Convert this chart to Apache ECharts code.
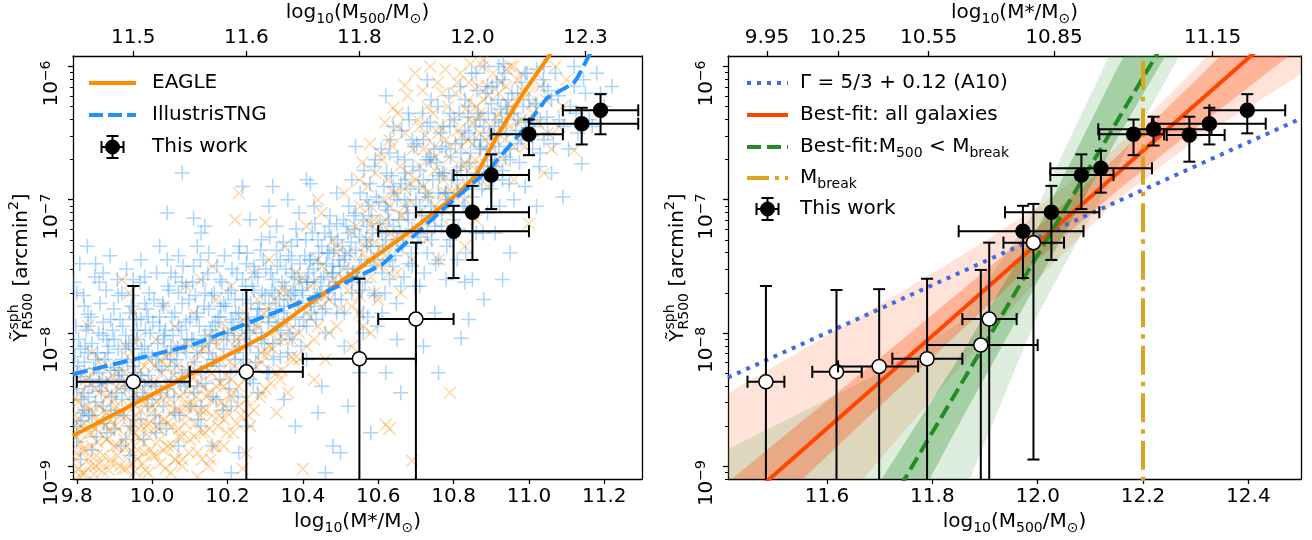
<!DOCTYPE html>
<html>
<head>
<meta charset="utf-8">
<title>tSZ signal versus stellar and halo mass</title>
<script src="https://cdn.jsdelivr.net/npm/echarts@6.0.0/dist/echarts.min.js"></script>
<style>
html, body { margin: 0; padding: 0; background: #fff; }
#chart { width: 1312px; height: 540px; }
</style>
</head>
<body>
<div id="chart"></div>
<script>
// ---------------- data ----------------
// stacked bins: [x, Y (arcmin^2), x low, x high, Y low, Y high]; Y low of 1e-11 = unbounded below
const mstarOpen = [
  [9.95, 4.3e-9, 9.80, 10.10, 1e-11, 2.25e-8],
  [10.25, 5.1e-9, 10.10, 10.40, 1e-11, 2.1e-8],
  [10.55, 6.4e-9, 10.40, 10.70, 1e-11, 2.55e-8],
  [10.70, 1.27e-8, 10.60, 10.80, 1e-11, 4.76e-8]
];
const mstarFilled = [
  [10.80, 5.8e-8, 10.60, 11.00, 2.58e-8, 9.0e-8],
  [10.85, 8.05e-8, 10.70, 11.00, 3.53e-8, 1.27e-7],
  [10.90, 1.53e-7, 10.80, 11.00, 8.5e-8, 2.19e-7],
  [11.00, 3.1e-7, 10.90, 11.09, 2.16e-7, 4.0e-7],
  [11.14, 3.72e-7, 11.00, 11.29, 2.6e-7, 4.9e-7],
  [11.19, 4.69e-7, 11.09, 11.29, 3.1e-7, 6.2e-7]
];
const m500Open = [
  [11.484, 4.3e-9, 11.449, 11.519, 1e-11, 2.25e-8],
  [11.618, 5.1e-9, 11.572, 11.666, 1e-11, 2.1e-8],
  [11.699, 5.6e-9, 11.621, 11.773, 1e-11, 2.13e-8],
  [11.790, 6.4e-9, 11.724, 11.857, 1e-11, 2.55e-8],
  [11.892, 8.1e-9, 11.790, 12.000, 1e-11, 2.97e-8],
  [11.908, 1.27e-8, 11.857, 11.960, 1e-11, 4.76e-8],
  [11.992, 4.76e-8, 11.935, 12.050, 1.12e-9, 9.3e-8]
];
const m500Filled = [
  [11.972, 5.8e-8, 11.850, 12.087, 2.58e-8, 9.0e-8],
  [12.026, 8.05e-8, 11.938, 12.117, 3.53e-8, 1.27e-7],
  [12.083, 1.53e-7, 12.024, 12.144, 8.5e-8, 2.19e-7],
  [12.120, 1.72e-7, 12.024, 12.217, 1.13e-7, 2.33e-7],
  [12.182, 3.1e-7, 12.117, 12.240, 2.16e-7, 4.0e-7],
  [12.220, 3.38e-7, 12.115, 12.330, 2.55e-7, 4.2e-7],
  [12.288, 3.06e-7, 12.245, 12.355, 1.93e-7, 4.2e-7],
  [12.326, 3.72e-7, 12.217, 12.433, 2.6e-7, 4.9e-7],
  [12.398, 4.69e-7, 12.326, 12.470, 3.15e-7, 6.2e-7]
];

// simulation medians: [log10 M*, log10 Y]
const eagleMedian = [[9.79,-8.772],[10.10,-8.314],[10.30,-8.022],[10.45,-7.714],[10.55,-7.514],[10.69,-7.227],[10.80,-6.98],[10.82,-6.93],[10.86,-6.814],[10.92,-6.50],[10.985,-6.20],[11.052,-5.926],[11.10,-5.70]];
const tngMedian = [[9.79,-8.31],[10.10,-8.097],[10.446,-7.714],[10.61,-7.489],[10.78,-7.052],[10.897,-6.764],[10.985,-6.476],[11.047,-6.239],[11.118,-6.126],[11.13,-6.077],[11.158,-5.926],[11.18,-5.80]];

// individual simulated galaxies: [log10 M*, log10 Y]
const eagleGalaxies = [
  [9.80,-8.90],[9.82,-9.05],[9.81,-8.70],[9.83,-8.55],[9.84,-8.85],[9.85,-9.00],[9.86,-8.65],[9.87,-8.40],[9.88,-8.80],[9.89,-8.95],
  [9.80,-8.50],[9.82,-8.30],[9.84,-8.15],[9.86,-8.98],[9.88,-8.60],[9.83,-7.95],[9.87,-8.25],[9.81,-9.08],[9.85,-8.72],[9.89,-8.45],
  [9.91,-8.85],[9.92,-8.60],[9.93,-9.02],[9.94,-8.40],[9.95,-8.75],[9.96,-8.95],[9.97,-8.50],[9.98,-8.25],[9.99,-8.68],[9.91,-8.30],
  [9.93,-8.10],[9.95,-7.85],[9.97,-8.80],[9.99,-9.05],[9.92,-7.60],[9.96,-8.05],[9.98,-8.90],[9.94,-7.70],
  [10.01,-8.70],[10.02,-8.45],[10.03,-8.88],[10.04,-8.25],[10.05,-8.60],[10.06,-8.95],[10.07,-8.35],[10.08,-8.10],[10.09,-8.55],[10.01,-8.05],
  [10.03,-7.80],[10.05,-9.05],[10.07,-8.78],[10.09,-7.65],[10.02,-8.20],[10.06,-7.95],[10.08,-9.00],
  [10.11,-8.55],[10.12,-8.30],[10.13,-8.75],[10.14,-8.10],[10.15,-8.45],[10.16,-8.85],[10.17,-8.20],[10.18,-7.95],[10.19,-8.65],[10.11,-7.85],
  [10.13,-7.60],[10.15,-9.00],[10.17,-7.75],[10.19,-8.40],[10.12,-9.08],[10.16,-7.50],
  [10.21,-8.35],[10.22,-8.10],[10.23,-8.55],[10.24,-7.90],[10.25,-8.25],[10.26,-8.70],[10.27,-8.00],[10.28,-7.75],[10.29,-8.45],[10.21,-7.65],
  [10.23,-6.95],[10.25,-8.90],[10.27,-7.55],[10.29,-8.15],[10.22,-7.15],[10.30,-7.17],[10.24,-9.02],
  [10.31,-8.10],[10.32,-7.88],[10.33,-8.30],[10.34,-7.70],[10.35,-8.05],[10.36,-8.45],[10.37,-7.80],[10.38,-7.55],[10.39,-8.20],[10.31,-7.45],
  [10.33,-8.60],[10.35,-7.35],[10.37,-8.05],[10.39,-7.62],[10.40,-9.02],
  [10.41,-7.85],[10.42,-7.65],[10.43,-8.05],[10.44,-7.45],[10.45,-7.80],[10.46,-8.20],[10.47,-7.55],[10.48,-7.30],[10.49,-7.95],[10.41,-7.20],
  [10.43,-8.35],[10.45,-7.10],[10.47,-7.75],[10.49,-7.40],[10.44,-7.00],
  [10.51,-7.60],[10.52,-7.40],[10.53,-7.80],[10.54,-7.20],[10.55,-7.55],[10.56,-7.95],[10.57,-7.30],[10.58,-7.05],[10.59,-7.70],[10.51,-6.95],
  [10.53,-8.10],[10.55,-6.85],[10.57,-7.45],[10.59,-7.15],[10.55,-7.85],[10.60,-7.75],[10.58,-8.00],
  [10.61,-7.35],[10.62,-7.15],[10.63,-7.55],[10.64,-6.95],[10.65,-7.30],[10.66,-7.70],[10.67,-7.05],[10.68,-6.80],[10.69,-7.45],[10.61,-6.70],
  [10.63,-6.55],[10.64,-6.31],[10.67,-6.14],[10.62,-8.69],[10.63,-8.72],[10.69,-8.96],[10.65,-6.45],
  [10.71,-7.10],[10.72,-6.90],[10.73,-7.30],[10.74,-6.70],[10.75,-7.05],[10.76,-7.45],[10.77,-6.80],[10.78,-6.55],[10.79,-7.20],[10.71,-6.45],
  [10.73,-6.30],[10.75,-6.60],[10.77,-6.20],[10.79,-8.45],[10.78,-6.95],
  [10.81,-6.80],[10.82,-6.60],[10.83,-7.00],[10.84,-6.40],[10.85,-6.75],[10.86,-7.15],[10.87,-6.50],[10.88,-6.25],[10.89,-6.90],[10.81,-6.12],
  [10.84,-6.12],[10.88,-5.95],[10.86,-6.30],[10.83,-7.35],
  [10.91,-6.55],[10.92,-6.35],[10.93,-6.70],[10.94,-6.15],[10.95,-6.45],[10.96,-6.85],[10.97,-6.25],[10.98,-6.05],[10.99,-6.60],[10.95,-6.00],
  [11.00,-7.18],[11.01,-6.35],[11.03,-6.15],[11.05,-6.50],[11.07,-6.00],[11.09,-6.30],[11.12,-6.63],[11.04,-6.80],[11.10,-6.10],
  [9.795,-8.62],[9.80,-8.78],[9.805,-9.02],[9.81,-8.45],[9.815,-8.88],[9.82,-8.68],[9.825,-8.35],[9.83,-8.95],[9.835,-8.58],[9.84,-8.75],
  [9.845,-9.06],[9.85,-8.42],[9.855,-8.82],[9.86,-8.55],[9.865,-8.20],[9.87,-8.92],[9.875,-8.70],[9.88,-8.48],[9.885,-9.03],[9.89,-8.65],
  [9.895,-8.32],[9.90,-8.85],[9.905,-8.55],[9.91,-8.72],[9.915,-9.00],[9.92,-8.40],[9.925,-8.80],[9.93,-8.62],[9.935,-8.18],[9.94,-8.90],
  [9.945,-8.52],[9.95,-8.68],[9.955,-9.04],[9.96,-8.35],[9.965,-8.78],[9.97,-8.58],[9.975,-8.98],[9.98,-8.45],[9.985,-8.70],[9.99,-8.20],
  [9.995,-8.88],[10.00,-8.55],[10.005,-8.38],[10.01,-8.92],[10.015,-8.62],[10.02,-8.80],[10.025,-8.30],[10.03,-8.50],[10.035,-9.02],[10.04,-8.68],
  [10.045,-8.15],[10.05,-8.42],[10.055,-8.85],[10.06,-8.58],[10.065,-8.25],[10.07,-8.72],[10.075,-8.48],[10.08,-8.95],[10.085,-8.35],[10.09,-8.62],
  [10.095,-8.08],[10.10,-8.80],[10.105,-8.45],[10.11,-8.22],[10.115,-8.68],[10.12,-8.90],[10.125,-8.38],[10.13,-8.58],[10.135,-8.12],[10.14,-8.75],
  [10.145,-8.48],[10.15,-8.28],[10.155,-8.95],[10.16,-8.62],[10.165,-8.05],[10.17,-8.40],[10.175,-8.70],[10.18,-8.20],[10.185,-8.52],[10.19,-8.85],
  [10.195,-8.32],[10.20,-8.60],[10.205,-7.98],[10.21,-8.48],[10.215,-8.75],[10.22,-8.25],[10.225,-8.05],[10.23,-8.40],[10.235,-8.62],[10.24,-8.12],
  [10.245,-7.85],[10.25,-8.50],[10.26,-8.30],[10.27,-8.58],[10.28,-7.95],[10.29,-8.22],[10.30,-8.42],[10.31,-7.82],[10.32,-8.12],[10.33,-7.98],
  [10.34,-8.35],[10.35,-7.65],[10.36,-7.92],[10.37,-8.18],[10.38,-7.78],[10.39,-8.00],[10.40,-7.58],[10.41,-8.10],[10.42,-7.88],[10.43,-7.62],
  [10.44,-7.95],[10.45,-7.50],[10.46,-7.72],[10.47,-8.00],[10.48,-7.60],[10.49,-7.35],[10.50,-7.82],[10.51,-7.52],[10.52,-7.68],[10.53,-7.25],
  [10.54,-7.55],[10.55,-7.72],[10.56,-7.40],[10.57,-7.15],[10.58,-7.58],[10.59,-7.32],[10.60,-7.50],[10.61,-7.18],[10.62,-7.42],[10.63,-7.05],
  [10.64,-7.30],[10.65,-7.55],[10.66,-7.12],[10.67,-6.92],[10.68,-7.28],[10.69,-7.02],[10.70,-6.85],[10.71,-7.22],[10.72,-6.62],[10.73,-6.98],
  [10.74,-7.15],[10.75,-6.78],[10.76,-6.50],[10.77,-6.95],[10.78,-7.08],[10.79,-6.68],[10.80,-6.40],[10.81,-6.90],[10.82,-6.52],[10.83,-6.72],
  [10.84,-6.25],[10.85,-6.58],[10.86,-6.85],[10.87,-6.35],[10.88,-6.62],[10.89,-6.15],[10.90,-6.45],[10.91,-6.72],[10.92,-6.20],[10.93,-6.48],
  [10.94,-6.02],[10.95,-6.32],[10.96,-6.60],[10.97,-6.10],[10.98,-6.40],[11.00,-6.20],[11.02,-6.05],
  [9.792,-8.70],[9.798,-8.95],[9.803,-8.52],[9.808,-8.82],[9.812,-9.05],[9.818,-8.60],[9.822,-8.88],[9.828,-8.40],[9.832,-8.75],[9.838,-9.00],
  [9.842,-8.62],[9.848,-8.30],[9.852,-8.92],[9.858,-8.68],[9.862,-8.45],[9.868,-9.04],[9.872,-8.58],[9.878,-8.80],[9.882,-8.35],[9.888,-8.72],
  [9.892,-8.98],[9.898,-8.50],[9.902,-8.70],[9.908,-8.92],[9.912,-8.42],[9.918,-8.62],[9.922,-9.02],[9.928,-8.30],[9.932,-8.85],[9.938,-8.55],
  [9.942,-8.72],[9.948,-8.98],[9.952,-8.45],[9.958,-8.62],[9.962,-8.88],[9.968,-8.28],[9.972,-8.70],[9.978,-8.52],[9.982,-9.03],[9.988,-8.38],
  [9.992,-8.78],[9.998,-8.60],[10.002,-8.92],[10.008,-8.25],[10.012,-8.52],[10.018,-8.72],[10.022,-8.98],[10.028,-8.40],[10.032,-8.65],[10.038,-8.18],
  [10.042,-8.85],[10.048,-8.50],[10.052,-8.70],[10.058,-8.32],[10.062,-8.95],[10.068,-8.58],[10.072,-8.12],[10.078,-8.78],[10.082,-8.45],[10.088,-8.68],
  [10.092,-8.28],[10.098,-8.90],[10.102,-8.55],[10.108,-8.35],[10.112,-8.78],[10.118,-8.48],[10.122,-8.15],[10.128,-8.62],[10.132,-8.95],[10.138,-8.40],
  [10.142,-8.58],[10.148,-8.02],[10.152,-8.72],[10.158,-8.30],[10.162,-8.50],[10.168,-8.85],[10.172,-8.10],[10.178,-8.62],[10.182,-8.38],[10.188,-8.02],
  [10.192,-8.55],[10.198,-8.75],[10.205,-8.22],[10.215,-8.45],[10.225,-8.68],[10.235,-8.02],[10.245,-8.35],[10.255,-8.62],[10.265,-7.92],[10.275,-8.25],
  [10.285,-8.48],[10.295,-7.85],[10.305,-8.15],[10.315,-8.38],[10.325,-7.75],[10.335,-8.05],[10.345,-8.28],[10.355,-7.70],[10.365,-7.98],[10.375,-8.20],
  [10.552,-7.05],[10.558,-6.72],[10.565,-7.35],[10.572,-6.90],[10.578,-6.58],[10.585,-7.20],[10.592,-6.80],[10.598,-7.48],[10.605,-6.65],[10.612,-7.00],
  [10.618,-6.42],[10.625,-6.85],[10.632,-7.25],[10.638,-6.60],[10.645,-6.95],[10.652,-6.35],[10.658,-6.75],[10.665,-7.12],[10.672,-6.50],[10.678,-6.22],
  [10.685,-6.88],[10.692,-6.62],[10.698,-6.05],[10.705,-6.40],[10.712,-6.75],[10.718,-6.18],[10.725,-6.52],[10.732,-6.95],[10.738,-6.00],[10.745,-6.35],
  [10.752,-6.68],[10.758,-6.12],[10.765,-6.45],[10.772,-6.85],[10.778,-6.02],[10.785,-6.30],[10.792,-6.60],[10.798,-6.95],[10.805,-6.20],[10.812,-6.48],
  [10.818,-6.05],[10.825,-6.75],[10.832,-6.32],[10.838,-6.55],[10.845,-5.98],[10.852,-6.42],[10.858,-6.70],[10.865,-6.15],[10.872,-6.38],[10.878,-6.00],
  [10.885,-6.55],[10.892,-6.22],[10.898,-6.78],[10.905,-6.05],[10.915,-6.38],[10.925,-6.12],[10.935,-6.55],[10.945,-6.28],[10.958,-6.00],[10.968,-6.42],
  [10.982,-6.18],[10.995,-6.50],[11.008,-6.28],[11.025,-6.42],[11.045,-6.25],[11.06,-6.62],[11.08,-6.45]
];
const tngGalaxies = [
  [9.80,-8.30],[9.82,-8.45],[9.81,-8.12],[9.84,-8.62],[9.85,-8.20],[9.83,-7.95],[9.86,-8.38],[9.88,-8.05],[9.80,-8.70],[9.87,-8.55],
  [9.89,-8.28],[9.82,-7.80],[9.84,-8.88],[9.86,-7.62],[9.81,-8.95],[9.88,-8.75],[9.83,-8.15],[9.85,-7.48],[9.89,-7.90],[9.80,-7.70],
  [9.87,-8.02],[9.82,-8.58],
  [9.91,-8.35],[9.93,-8.10],[9.92,-8.50],[9.94,-7.85],[9.95,-8.25],[9.97,-8.65],[9.96,-7.98],[9.98,-8.40],[9.99,-8.15],[9.91,-7.72],
  [9.93,-8.80],[9.95,-7.60],[9.97,-8.32],[9.99,-7.88],[9.92,-8.20],[9.94,-8.92],[9.96,-8.48],[9.98,-7.78],[9.90,-8.05],[9.97,-7.45],
  [10.01,-8.20],[10.02,-7.95],[10.04,-8.42],[10.03,-7.80],[10.05,-8.10],[10.06,-8.60],[10.07,-7.70],[10.08,-8.30],[10.09,-7.92],[10.01,-8.75],
  [10.03,-8.05],[10.05,-7.55],[10.07,-8.85],[10.09,-8.15],[10.02,-7.35],[10.06,-8.25],[10.08,-7.62],[10.04,-7.10],[10.00,-8.50],[10.08,-6.80],
  [10.11,-8.05],[10.12,-7.85],[10.13,-8.30],[10.14,-7.70],[10.15,-8.15],[10.16,-7.95],[10.17,-8.50],[10.18,-7.60],[10.19,-8.00],[10.11,-7.50],
  [10.13,-8.70],[10.15,-7.40],[10.17,-8.20],[10.19,-7.78],[10.12,-8.40],[10.14,-7.20],[10.16,-8.85],[10.18,-7.88],[10.11,-7.14],[10.13,-7.25],
  [10.21,-7.90],[10.22,-7.75],[10.23,-8.10],[10.24,-7.60],[10.25,-7.98],[10.26,-8.35],[10.27,-7.50],[10.28,-7.82],[10.29,-8.05],[10.21,-8.55],
  [10.23,-7.40],[10.25,-8.70],[10.27,-7.68],[10.29,-7.30],[10.22,-8.20],[10.24,-6.90],[10.26,-7.15],[10.28,-8.45],[10.21,-9.05],[10.23,-8.90],
  [10.31,-7.78],[10.32,-7.60],[10.33,-7.95],[10.34,-7.45],[10.35,-7.85],[10.36,-8.15],[10.37,-7.35],[10.38,-7.70],[10.39,-7.95],[10.31,-8.30],
  [10.33,-7.20],[10.35,-8.50],[10.37,-7.55],[10.39,-7.10],[10.32,-6.90],[10.34,-8.05],[10.36,-7.00],[10.38,-8.70],[10.31,-7.05],
  [10.41,-7.62],[10.42,-7.45],[10.43,-7.80],[10.44,-7.30],[10.45,-7.70],[10.46,-8.00],[10.47,-7.20],[10.48,-7.55],[10.49,-7.85],[10.41,-8.20],
  [10.43,-7.05],[10.45,-8.40],[10.47,-7.40],[10.49,-6.95],[10.42,-6.88],[10.44,-8.60],[10.46,-9.05],[10.48,-8.85],[10.41,-6.85],
  [10.51,-7.45],[10.52,-7.25],[10.53,-7.62],[10.54,-7.10],[10.55,-7.50],[10.56,-7.85],[10.57,-7.00],[10.58,-7.35],[10.59,-7.70],[10.51,-8.10],
  [10.53,-6.85],[10.55,-8.30],[10.57,-7.20],[10.59,-6.75],[10.52,-8.55],[10.54,-6.60],[10.56,-8.00],[10.58,-8.75],[10.50,-8.90],
  [10.61,-7.25],[10.62,-7.05],[10.63,-7.45],[10.64,-6.90],[10.65,-7.30],[10.66,-7.65],[10.67,-6.80],[10.68,-7.15],[10.69,-7.50],[10.61,-7.85],
  [10.63,-6.65],[10.65,-8.05],[10.67,-7.00],[10.69,-6.55],[10.62,-8.30],[10.64,-6.45],[10.66,-8.45],[10.68,-6.35],[10.62,-6.22],
  [10.71,-7.05],[10.72,-6.85],[10.73,-7.25],[10.74,-6.70],[10.75,-7.10],[10.76,-7.45],[10.77,-6.60],[10.78,-6.95],[10.79,-7.30],[10.71,-7.65],
  [10.73,-6.45],[10.75,-7.85],[10.77,-6.80],[10.79,-6.35],[10.72,-8.10],[10.74,-6.25],[10.76,-8.30],[10.78,-7.60],[10.73,-6.10],
  [10.81,-6.85],[10.82,-6.65],[10.83,-7.05],[10.84,-6.50],[10.85,-6.90],[10.86,-7.25],[10.87,-6.40],[10.88,-6.75],[10.89,-7.10],[10.81,-7.45],
  [10.83,-6.25],[10.85,-7.60],[10.87,-6.60],[10.89,-6.15],[10.82,-8.04],[10.84,-7.90],[10.86,-6.05],[10.88,-7.75],[10.83,-7.62],
  [10.91,-6.65],[10.92,-6.45],[10.93,-6.85],[10.94,-6.30],[10.95,-6.70],[10.96,-7.00],[10.97,-6.20],[10.98,-6.55],[10.99,-6.90],[10.91,-7.25],
  [10.93,-6.10],[10.95,-7.40],[10.97,-6.40],[10.99,-6.05],[10.93,-7.60],[10.92,-6.00],
  [11.01,-6.45],[11.02,-6.30],[11.03,-6.65],[11.04,-6.15],[11.05,-6.50],[11.06,-6.80],[11.07,-6.05],[11.08,-6.40],[11.09,-6.98],[11.02,-7.05],
  [11.04,-6.00],[11.06,-6.25],
  [11.11,-6.30],[11.12,-6.15],[11.13,-6.50],[11.14,-6.73],[11.15,-6.20],[11.16,-6.40],[11.18,-6.05],[11.20,-6.30],[11.22,-6.15],[11.12,-6.00],
  [9.795,-8.18],[9.80,-8.42],[9.805,-8.05],[9.81,-8.33],[9.815,-8.60],[9.82,-8.22],[9.825,-7.98],[9.83,-8.48],[9.835,-8.35],[9.84,-8.08],
  [9.845,-8.27],[9.85,-8.52],[9.80,-8.82],[9.83,-7.86],[9.81,-8.66],
  [9.855,-8.15],[9.86,-8.30],[9.865,-8.44],[9.87,-7.92],[9.875,-8.20],[9.88,-8.38],[9.885,-8.10],[9.89,-8.58],[9.895,-7.98],[9.90,-8.26],
  [9.905,-8.45],[9.91,-8.12],[9.915,-7.90],[9.92,-8.32],[9.925,-8.62],[9.93,-8.02],[9.935,-8.22],[9.94,-8.40],[9.945,-7.80],[9.95,-8.12],
  [9.87,-7.55],[9.92,-7.70],[9.90,-8.72],
  [9.955,-8.30],[9.96,-8.05],[9.965,-8.20],[9.97,-7.90],[9.975,-8.45],[9.98,-8.10],[9.985,-7.82],[9.99,-8.32],[9.995,-8.00],[10.00,-8.18],
  [10.005,-7.75],[10.01,-8.40],[10.015,-8.08],[10.02,-7.88],[10.025,-8.28],[10.03,-8.55],[10.035,-7.98],[10.04,-8.15],[10.045,-7.68],[10.05,-8.35],
  [9.98,-7.58],[10.02,-8.68],[10.04,-7.45],
  [10.055,-8.02],[10.06,-7.85],[10.065,-8.20],[10.07,-7.95],[10.075,-8.38],[10.08,-7.78],[10.085,-8.10],[10.09,-7.65],[10.095,-8.28],[10.10,-7.90],
  [10.105,-8.05],[10.11,-8.45],[10.115,-7.72],[10.12,-8.15],[10.125,-7.95],[10.13,-8.55],[10.135,-7.60],[10.14,-8.02],[10.145,-8.25],[10.15,-7.82],
  [10.07,-7.42],[10.12,-7.35],
  [10.155,-7.98],[10.16,-8.20],[10.165,-7.70],[10.17,-8.05],[10.175,-7.88],[10.18,-8.35],[10.185,-7.62],[10.19,-8.12],[10.195,-7.80],[10.20,-8.00],
  [10.205,-8.42],[10.21,-7.68],[10.215,-7.92],[10.22,-8.15],[10.225,-7.55],[10.23,-7.85],[10.235,-8.28],[10.24,-7.75],[10.245,-8.05],[10.25,-7.48],
  [10.255,-7.90],[10.26,-8.10],[10.265,-7.65],[10.27,-7.95],[10.275,-8.22],[10.28,-7.58],[10.285,-7.82],[10.29,-8.00],[10.295,-7.45],[10.30,-7.72],
  [10.305,-8.30],[10.31,-7.88],[10.315,-7.55],[10.32,-8.08],[10.325,-7.70],[10.33,-7.38],[10.335,-7.92],[10.34,-8.18],[10.345,-7.62],[10.35,-7.80],
  [10.355,-7.52],[10.36,-7.75],[10.365,-8.00],[10.37,-7.45],[10.375,-7.68],[10.38,-7.88],[10.385,-7.30],[10.39,-7.60],[10.395,-8.10],[10.40,-7.72],
  [10.405,-7.42],[10.41,-7.95],[10.415,-7.55],[10.42,-7.78],[10.425,-7.25],[10.43,-7.62],[10.435,-7.90],[10.44,-7.48],[10.445,-7.70],[10.45,-7.35],
  [10.455,-7.58],[10.46,-7.82],[10.465,-7.40],[10.47,-7.65],[10.475,-7.28],[10.48,-7.50],[10.485,-7.75],[10.49,-7.18],[10.495,-7.45],[10.50,-7.62],
  [10.505,-7.35],[10.51,-7.85],[10.515,-7.20],[10.52,-7.52],[10.525,-7.40],[10.53,-7.70],[10.535,-7.12],[10.54,-7.38],[10.545,-7.58],[10.55,-7.28],
  [10.555,-7.45],[10.56,-7.15],[10.565,-7.62],[10.57,-7.35],[10.575,-7.05],[10.58,-7.50],[10.585,-7.25],[10.59,-7.72],[10.595,-6.98],[10.60,-7.40],
  [10.605,-7.18],[10.61,-7.55],[10.615,-6.90],[10.62,-7.30],[10.625,-7.08],[10.63,-7.60],[10.635,-6.82],[10.64,-7.20],[10.645,-7.42],[10.65,-7.00],
  [10.655,-7.15],[10.66,-6.88],[10.665,-7.35],[10.67,-6.70],[10.675,-7.05],[10.68,-7.48],[10.685,-6.92],[10.69,-7.22],[10.695,-6.60],[10.70,-7.00],
  [10.705,-7.32],[10.71,-6.78],[10.715,-7.12],[10.72,-6.55],[10.725,-6.95],[10.73,-7.40],[10.735,-6.68],[10.74,-7.05],[10.745,-6.85],[10.75,-7.20],
  [10.755,-6.72],[10.76,-6.95],[10.765,-6.50],[10.77,-7.10],[10.775,-6.80],[10.78,-6.62],[10.785,-7.00],[10.79,-6.45],[10.795,-6.85],[10.80,-7.15],
  [10.805,-6.58],[10.81,-6.95],[10.815,-6.35],[10.82,-6.75],[10.825,-7.05],[10.83,-6.48],[10.835,-6.82],[10.84,-6.30],[10.845,-6.65],[10.85,-6.98],
  [10.855,-6.55],[10.86,-6.80],[10.865,-6.35],[10.87,-6.62],[10.875,-6.92],[10.88,-6.45],[10.885,-6.20],[10.89,-6.70],[10.895,-6.50],[10.90,-6.28],
  [10.905,-6.85],[10.91,-6.40],[10.915,-6.12],[10.92,-6.60],[10.925,-6.32],[10.93,-6.78],[10.935,-6.05],[10.94,-6.50],[10.945,-6.25],[10.95,-6.62],
  [10.96,-6.35],[10.97,-6.58],[10.98,-6.12],[10.99,-6.42],[11.00,-6.25],[11.01,-6.62],[11.02,-6.02],[11.03,-6.40],[11.04,-6.55],[11.05,-6.18],
  [9.792,-7.62],[9.798,-7.95],[9.803,-8.25],[9.808,-7.48],[9.812,-8.50],[9.818,-7.72],[9.822,-8.10],[9.828,-7.35],[9.832,-8.62],[9.838,-7.88],
  [9.842,-8.40],[9.848,-7.58],[9.852,-8.78],[9.858,-8.00],[9.862,-7.78],[9.868,-8.35],[9.872,-8.68],[9.878,-7.68],[9.882,-8.15],[9.888,-7.42],
  [9.892,-8.48],[9.898,-7.82],[9.902,-8.62],[9.908,-7.60],[9.912,-8.28],[9.918,-8.85],[9.922,-7.95],[9.928,-8.42],[9.932,-7.52],[9.938,-8.08],
  [9.942,-8.70],[9.948,-7.72],[9.952,-8.50],[9.958,-7.90],[9.962,-8.35],[9.968,-7.62],[9.972,-8.12],[9.978,-8.80],[9.982,-7.98],[9.988,-8.55],
  [9.992,-7.70],[9.998,-8.38],[10.002,-7.92],[10.008,-8.62],[10.012,-7.55],[10.018,-8.25],[10.022,-8.45],[10.028,-7.78],[10.032,-8.02],[10.038,-8.72],
  [10.042,-7.65],[10.048,-8.20],[10.052,-7.88],[10.058,-8.48],[10.062,-7.58],[10.068,-8.12],[10.072,-8.62],[10.078,-7.98],[10.082,-7.50],[10.088,-8.40],
  [10.092,-8.05],[10.098,-7.75],[10.102,-8.55],[10.108,-7.62],[10.112,-8.22],[10.118,-7.88],[10.122,-8.65],[10.128,-7.45],[10.132,-8.10],[10.138,-7.80],
  [10.142,-8.38],[10.148,-7.55],[10.152,-8.08],[10.158,-7.72],[10.162,-8.48],[10.168,-7.92],[10.172,-7.50],[10.178,-8.25],[10.182,-7.80],[10.188,-8.58],
  [10.192,-7.42],[10.198,-8.05],[10.202,-7.70],[10.208,-8.30],[10.212,-7.52],[10.218,-8.02],[10.222,-7.85],[10.228,-8.48],[10.232,-7.35],[10.238,-7.95],
  [10.242,-8.20],[10.248,-7.65],[10.252,-7.40],[10.258,-8.00],[10.262,-7.78],[10.268,-8.38],[10.272,-7.55],[10.278,-7.88],[10.282,-8.15],[10.288,-7.38],
  [10.292,-7.70],[10.298,-8.08],[10.302,-7.52],[10.308,-7.92],[10.312,-7.28],[10.318,-7.68],[10.322,-8.20],[10.328,-7.82],[10.332,-7.50],[10.338,-7.75],
  [10.342,-7.98],[10.348,-7.32],[10.352,-7.65],[10.358,-7.90],[10.362,-7.42],[10.368,-7.72],[10.372,-8.05],[10.378,-7.58],[10.382,-7.22],[10.388,-7.80],
  [10.392,-7.48],[10.398,-7.68],[10.402,-7.90],[10.408,-7.30],[10.412,-7.62],[10.418,-7.45],[10.422,-7.85],[10.428,-7.52],[10.432,-7.18],[10.438,-7.72],
  [10.442,-7.40],[10.448,-7.60],[10.452,-7.85],[10.458,-7.25],[10.462,-7.48],[10.468,-7.70],[10.472,-7.12],[10.478,-7.55],[10.482,-7.38],[10.488,-7.62],
  [10.492,-7.30],[10.498,-7.50],[10.502,-7.75],[10.508,-7.15],[10.512,-7.42],[10.518,-7.60],[10.522,-7.05],[10.528,-7.32],[10.532,-7.55],[10.538,-7.22],
  [10.552,-6.95],[10.558,-7.68],[10.562,-6.78],[10.568,-7.30],[10.572,-7.88],[10.578,-6.88],[10.582,-7.12],[10.588,-7.45],[10.592,-6.70],[10.598,-7.95],
  [10.602,-7.02],[10.608,-6.62],[10.612,-7.35],[10.618,-7.70],[10.622,-6.80],[10.628,-7.15],[10.632,-6.55],[10.638,-7.50],[10.642,-6.95],[10.648,-7.78],
  [10.652,-6.68],[10.658,-7.25],[10.662,-6.48],[10.668,-7.58],[10.672,-6.85],[10.678,-7.10],[10.682,-6.40],[10.688,-7.40],[10.692,-6.75],[10.698,-7.65],
  [10.702,-6.58],[10.708,-6.90],[10.712,-7.28],[10.718,-6.35],[10.722,-7.55],[10.728,-6.70],[10.732,-6.98],[10.738,-6.42],[10.742,-7.30],[10.748,-6.62],
  [10.752,-7.48],[10.758,-6.30],[10.762,-6.82],[10.768,-7.20],[10.772,-6.45],[10.778,-6.95],[10.782,-7.35],[10.788,-6.22],[10.792,-6.68],[10.798,-7.05],
  [10.802,-6.40],[10.808,-6.78],[10.812,-7.22],[10.818,-6.15],[10.822,-6.55],[10.828,-6.92],[10.832,-7.40],[10.838,-6.38],[10.842,-6.72],[10.848,-6.05],
  [10.852,-7.10],[10.858,-6.45],[10.862,-6.18],[10.868,-6.85],[10.872,-6.55],[10.878,-7.25],[10.882,-6.00],[10.888,-6.62],[10.892,-6.35],[10.898,-6.92],
  [10.902,-6.15],[10.908,-6.52],[10.912,-6.75],[10.918,-6.25],[10.922,-7.05],[10.928,-6.42],[10.932,-5.98],[10.938,-6.68],[10.942,-6.35],[10.948,-6.88],
  [10.955,-6.20],[10.965,-6.48],[10.975,-6.72],[10.985,-6.30],[10.995,-6.05],[11.008,-6.52],[11.018,-6.28],[11.028,-6.75],[11.038,-6.10],[11.048,-6.38],
  [11.065,-6.58],[11.078,-6.22],[11.092,-6.45],[11.105,-6.62],[11.125,-6.35],[11.145,-6.10],[11.168,-6.45],[11.19,-6.20]
];

// halo-mass relations: [log10 M500, log10 Y]
const selfSimilarA10 = [[11.412, -8.335], [12.50, -6.390]];
const fitAll = [[11.412, -9.371], [12.50, -5.589]];
const fitLowMass = [[11.70, -9.413], [12.30, -5.417]];
const mBreak = 12.2;

// confidence bands of the fits, sampled at bandX (log10 Y)
const bandX = [11.41, 11.55, 11.70, 11.85, 12.00, 12.15, 12.30, 12.50];
const fitAllLo68 = [-9.628, -9.111, -8.550, -7.998, -7.447, -6.936, -6.464, -5.849];
const fitAllHi68 = [-9.128, -8.671, -8.190, -7.698, -7.207, -6.676, -6.104, -5.329];
const fitAllLo95 = [-10.298, -9.646, -8.952, -8.263, -7.597, -7.006, -6.554, -6.058];
const fitAllHi95 = [-8.458, -8.136, -7.788, -7.433, -7.057, -6.606, -6.014, -5.120];
const fitLowLo68 = [-12.000, -10.900, -9.800, -8.690, -7.615, -6.546, -5.530, -4.300];
const fitLowHi68 = [-10.600, -9.850, -9.120, -8.190, -7.215, -6.020, -5.000, -3.400];
const fitLowLo95 = [-13.500, -12.200, -10.750, -9.300, -7.865, -6.766, -5.700, -4.500];
const fitLowHi95 = [-8.877, -8.600, -8.300, -7.930, -7.050, -5.800, -4.500, -2.600];

// tick positions and labels
const mstarTicks = [9.8, 10.0, 10.2, 10.4, 10.6, 10.8, 11.0, 11.2];
const m500Ticks = [11.6, 11.8, 12.0, 12.2, 12.4];
const topLeftPos = [9.95, 10.25, 10.55, 10.85, 11.15];
const topLeftLabels = ['11.5', '11.6', '11.8', '12.0', '12.3'];
const topRightPos = [11.486, 11.621, 11.793, 12.031, 12.332];
const topRightLabels = ['9.95', '10.25', '10.55', '10.85', '11.15'];
const yDecades = [-9, -8, -7, -6];

// ---------------- styling / layout ----------------
const FONT = 'DejaVu Sans';
const C_EAGLE = '#ff8c00', C_TNG = '#1e90ff', C_ALL = '#ff4500', C_LOW = '#228b22',
      C_A10 = '#4169e1', C_BREAK = '#daa520';
const LX = [9.79, 11.30], RX = [11.412, 12.50], YR = [-9.097, -5.921];
const G0 = {left: 73, top: 56, width: 569, height: 423};
const G1 = {left: 728, top: 56, width: 573, height: 423};

const yMinor = [];
for (let d = -10; d <= -6; d++) for (let k = 2; k <= 9; k++) {
  const v = d + Math.log10(k);
  if (v > YR[0] && v < YR[1]) yMinor.push(v);
}

const lineSt = {color: '#000', width: 1.3};
function xAxis(grid, range, pos, ticks, fmt) {
  return {
    type: 'value', gridIndex: grid, position: pos, min: range[0], max: range[1],
    axisLine: {show: true, onZero: false, lineStyle: lineSt},
    axisTick: {show: true, inside: false, length: 5, lineStyle: lineSt, customValues: ticks},
    axisLabel: {show: true, customValues: ticks, formatter: fmt, color: '#000',
                fontFamily: FONT, fontSize: 20, margin: 8},
    splitLine: {show: false}
  };
}
function yAxisMajor(grid) {
  return {
    type: 'value', gridIndex: grid, position: 'left', min: YR[0], max: YR[1],
    axisLine: {show: true, onZero: false, lineStyle: lineSt},
    axisTick: {show: true, length: 5, lineStyle: lineSt, customValues: yDecades},
    axisLabel: {
      show: true, customValues: yDecades, rotate: 90, margin: 8, padding: [0, 34, 0, 0],
      formatter: v => '{b|10}{s|\u2212' + Math.abs(v) + '}',
      rich: {b: {fontSize: 20, fontFamily: FONT, color: '#000'},
             s: {fontSize: 14, fontFamily: FONT, color: '#000', padding: [0, 0, 12, 0]}}
    },
    splitLine: {show: false}
  };
}
function yAxisMinor(grid) {
  return {
    type: 'value', gridIndex: grid, position: 'left', min: YR[0], max: YR[1],
    axisLine: {show: false, onZero: false},
    axisTick: {show: true, length: 3, lineStyle: {color: '#000', width: 1}, customValues: yMinor},
    axisLabel: {show: false}, splitLine: {show: false}
  };
}
function yAxisFrame(grid) {
  return {
    type: 'value', gridIndex: grid, position: 'right', min: YR[0], max: YR[1],
    axisLine: {show: true, onZero: false, lineStyle: lineSt},
    axisTick: {show: false}, axisLabel: {show: false}, splitLine: {show: false}
  };
}
const lookup = (pos, labels) => v => {
  const i = pos.findIndex(p => Math.abs(p - v) < 1e-6);
  return i < 0 ? '' : labels[i];
};

// ---------------- series builders ----------------
function clipOf(cs) {
  return {type: 'rect', shape: {x: cs.x, y: cs.y, width: cs.width, height: cs.height}};
}
function cloudSeries(pts, marker, color, xi, yi, z) {
  const path = marker === '+' ? 'M5 0L5 10M0 5L10 5' : 'M0 0L10 10M10 0L0 10';
  const r = marker === '+' ? 7.5 : 6;
  return {
    type: 'custom', xAxisIndex: xi, yAxisIndex: yi, silent: true, z: z, data: pts,
    renderItem(params, api) {
      const p = api.coord([api.value(0), api.value(1)]);
      return {
        type: 'path', clipPath: clipOf(params.coordSys),
        shape: {pathData: path, x: p[0] - r, y: p[1] - r, width: 2 * r, height: 2 * r, layout: 'cover'},
        style: {fill: 'none', stroke: color, lineWidth: 1.5}
      };
    }
  };
}
function errorSeries(pts, filled, xi, yi) {
  return {
    type: 'custom', xAxisIndex: xi, yAxisIndex: yi, silent: true, z: 10,
    data: pts.map(p => [p[0], Math.log10(p[1]), p[2], p[3], Math.log10(p[4]), Math.log10(p[5])]),
    renderItem(params, api) {
      const cs = params.coordSys;
      const bottom = cs.y + cs.height;
      const c = api.coord([api.value(0), api.value(1)]);
      const xl = api.coord([api.value(2), api.value(1)])[0];
      const xh = api.coord([api.value(3), api.value(1)])[0];
      let yl = api.coord([api.value(0), api.value(4)])[1];
      const yh = api.coord([api.value(0), api.value(5)])[1];
      const capLow = yl <= bottom;
      yl = Math.min(yl, bottom);
      const st = {stroke: '#000', lineWidth: 2};
      const cap = 6;
      const kids = [
        {type: 'line', shape: {x1: xl, y1: c[1], x2: xh, y2: c[1]}, style: st},
        {type: 'line', shape: {x1: c[0], y1: yl, x2: c[0], y2: yh}, style: st},
        {type: 'line', shape: {x1: xl, y1: c[1] - cap, x2: xl, y2: c[1] + cap}, style: st},
        {type: 'line', shape: {x1: xh, y1: c[1] - cap, x2: xh, y2: c[1] + cap}, style: st},
        {type: 'line', shape: {x1: c[0] - cap, y1: yh, x2: c[0] + cap, y2: yh}, style: st}
      ];
      if (capLow) kids.push({type: 'line', shape: {x1: c[0] - cap, y1: yl, x2: c[0] + cap, y2: yl}, style: st});
      kids.push({type: 'circle', shape: {cx: c[0], cy: c[1], r: 7},
                 style: {fill: filled ? '#000' : '#fff', stroke: '#000', lineWidth: 1.5}});
      return {type: 'group', clipPath: clipOf(cs), children: kids};
    }
  };
}
function curveSeries(pts, color, dash, xi, yi, z) {
  return {
    type: 'line', xAxisIndex: xi, yAxisIndex: yi, data: pts, showSymbol: false, symbol: 'none',
    silent: true, clip: true, z: z,
    lineStyle: {color: color, width: 4, type: dash || 'solid', cap: 'butt'}
  };
}
function bandSeries(lo, hi, color, xi, yi, z) {
  return {
    type: 'custom', xAxisIndex: xi, yAxisIndex: yi, silent: true, z: z,
    data: [[bandX[0], lo[0]]],
    renderItem(params, api) {
      const pts = [];
      for (let i = 0; i < bandX.length; i++) pts.push(api.coord([bandX[i], lo[i]]));
      for (let i = bandX.length - 1; i >= 0; i--) pts.push(api.coord([bandX[i], hi[i]]));
      return {type: 'polygon', clipPath: clipOf(params.coordSys), shape: {points: pts, smooth: 0}, style: {fill: color}};
    }
  };
}

// ---------------- text with sub/superscripts ----------------
const measure = document.createElement('canvas').getContext('2d');
function textW(t, size) { measure.font = size + 'px "' + FONT + '"'; return measure.measureText(t).width; }
const SZ = {n: 20, sub: 14, sup: 14};
const DY = {n: 0, sub: 6, sup: -8};
function mathText(pieces, x, y, align, rotation) {
  const kids = [];
  let w = 0;
  const put = (t, kind, at) => kids.push({
    type: 'text', x: at, y: DY[kind], silent: true,
    style: {text: t, fontSize: SZ[kind], fontFamily: FONT, fill: '#000',
            textAlign: 'left', textVerticalAlign: 'middle', align: 'left', verticalAlign: 'middle'}
  });
  pieces.forEach(p => {
    if (p[0] === 'stack') {
      put(p[1], 'sup', w); put(p[2], 'sub', w);
      w += Math.max(textW(p[1], SZ.sup), textW(p[2], SZ.sub));
    } else {
      put(p[1], p[0], w); w += textW(p[1], SZ[p[0]]);
    }
  });
  if (align === 'center') kids.forEach(k => { k.x -= w / 2; });
  return {type: 'group', x: x, y: y, rotation: rotation || 0, silent: true, z: 50, children: kids};
}
function legendLine(x1, x2, y, color, dash) {
  return {type: 'line', silent: true, z: 50, shape: {x1: x1, y1: y, x2: x2, y2: y},
          style: {stroke: color, lineWidth: 4, lineDash: dash || null, lineCap: 'butt'}};
}
function legendErr(cx, cy) {
  const st = {stroke: '#000', lineWidth: 2}, h = 11, cap = 6;
  return {type: 'group', silent: true, z: 50, children: [
    {type: 'line', shape: {x1: cx - h, y1: cy, x2: cx + h, y2: cy}, style: st},
    {type: 'line', shape: {x1: cx, y1: cy - h, x2: cx, y2: cy + h}, style: st},
    {type: 'line', shape: {x1: cx - h, y1: cy - cap, x2: cx - h, y2: cy + cap}, style: st},
    {type: 'line', shape: {x1: cx + h, y1: cy - cap, x2: cx + h, y2: cy + cap}, style: st},
    {type: 'line', shape: {x1: cx - cap, y1: cy - h, x2: cx + cap, y2: cy - h}, style: st},
    {type: 'line', shape: {x1: cx - cap, y1: cy + h, x2: cx + cap, y2: cy + h}, style: st},
    {type: 'circle', shape: {cx: cx, cy: cy, r: 7}, style: {fill: '#000', stroke: '#000', lineWidth: 1}}
  ]};
}
const label = (t, x, y) => mathText([['n', t]], x, y, 'left');

const cxL = G0.left + G0.width / 2, cxR = G1.left + G1.width / 2;
const yMid = G0.top + G0.height / 2;
const yTitle = [['n', '\u1EF8'], ['stack', 'sph', 'R500'], ['n', ' [arcmin'], ['sup', '2'], ['n', ']']];
const graphics = [
  mathText([['n', 'log'], ['sub', '10'], ['n', '(M*/M'], ['sub', '\u2299'], ['n', ')']], cxL, 522, 'center'),
  mathText([['n', 'log'], ['sub', '10'], ['n', '(M'], ['sub', '500'], ['n', '/M'], ['sub', '\u2299'], ['n', ')']], cxL, 13, 'center'),
  mathText([['n', 'log'], ['sub', '10'], ['n', '(M'], ['sub', '500'], ['n', '/M'], ['sub', '\u2299'], ['n', ')']], cxR, 522, 'center'),
  mathText([['n', 'log'], ['sub', '10'], ['n', '(M*/M'], ['sub', '\u2299'], ['n', ')']], cxR, 13, 'center'),
  mathText(yTitle, 22, yMid, 'center', Math.PI / 2),
  mathText(yTitle, 678, yMid, 'center', Math.PI / 2),
  // left legend
  legendLine(89, 136, 83, C_EAGLE), label('EAGLE', 152, 83),
  legendLine(89, 136, 115, C_TNG, [14, 5]), label('IllustrisTNG', 152, 115),
  legendErr(112.5, 147), label('This work', 152, 147),
  // right legend
  legendLine(747, 788, 83, C_A10, [4, 6]),
  mathText([['n', '\u0393 = 5/3 + 0.12 (A10)']], 800, 83, 'left'),
  legendLine(747, 788, 115, C_ALL), label('Best-fit: all galaxies', 800, 115),
  legendLine(747, 788, 147, C_LOW, [14, 6]),
  mathText([['n', 'Best-fit:M'], ['sub', '500'], ['n', ' < M'], ['sub', 'break']], 800, 147, 'left'),
  legendLine(747, 788, 178, C_BREAK, [22, 6, 4, 6]),
  mathText([['n', 'M'], ['sub', 'break']], 800, 178, 'left'),
  legendErr(767.5, 209), label('This work', 800, 209)
];

// ---------------- chart ----------------
const chart = echarts.init(document.getElementById('chart'), null, {renderer: 'canvas', width: 1312, height: 540});
chart.setOption({
  animation: false,
  backgroundColor: '#fff',
  grid: [Object.assign({containLabel: false}, G0), Object.assign({containLabel: false}, G1)],
  xAxis: [
    xAxis(0, LX, 'bottom', mstarTicks, v => v.toFixed(1)),
    xAxis(0, LX, 'top', topLeftPos, lookup(topLeftPos, topLeftLabels)),
    xAxis(1, RX, 'bottom', m500Ticks, v => v.toFixed(1)),
    xAxis(1, RX, 'top', topRightPos, lookup(topRightPos, topRightLabels))
  ],
  yAxis: [
    yAxisMajor(0), yAxisMinor(0), yAxisFrame(0),
    yAxisMajor(1), yAxisMinor(1), yAxisFrame(1)
  ],
  series: [
    // left: stellar mass
    cloudSeries(eagleGalaxies, 'x', 'rgba(255,140,0,0.36)', 0, 0, 2),
    cloudSeries(tngGalaxies, '+', 'rgba(30,144,255,0.38)', 0, 0, 3),
    curveSeries(eagleMedian, C_EAGLE, 'solid', 0, 0, 5),
    curveSeries(tngMedian, C_TNG, [15, 5.5], 0, 0, 5),
    errorSeries(mstarOpen, false, 0, 0),
    errorSeries(mstarFilled, true, 0, 0),
    // right: halo mass
    bandSeries(fitAllLo95, fitAllHi95, 'rgba(255,69,0,0.15)', 2, 3, 1),
    bandSeries(fitLowLo95, fitLowHi95, 'rgba(34,139,34,0.15)', 2, 3, 1),
    bandSeries(fitAllLo68, fitAllHi68, 'rgba(255,69,0,0.30)', 2, 3, 1),
    bandSeries(fitLowLo68, fitLowHi68, 'rgba(34,139,34,0.30)', 2, 3, 1),
    curveSeries(selfSimilarA10, C_A10, [4, 6], 2, 3, 4),
    curveSeries(fitAll, C_ALL, 'solid', 2, 3, 5),
    curveSeries(fitLowMass, C_LOW, [14, 6], 2, 3, 5),
    curveSeries([[mBreak, YR[0] - 1], [mBreak, YR[1] + 1]], C_BREAK, [29, 7, 4.5, 7], 2, 3, 5),
    errorSeries(m500Open, false, 2, 3),
    errorSeries(m500Filled, true, 2, 3)
  ],
  graphic: graphics
});
</script>
</body>
</html>
